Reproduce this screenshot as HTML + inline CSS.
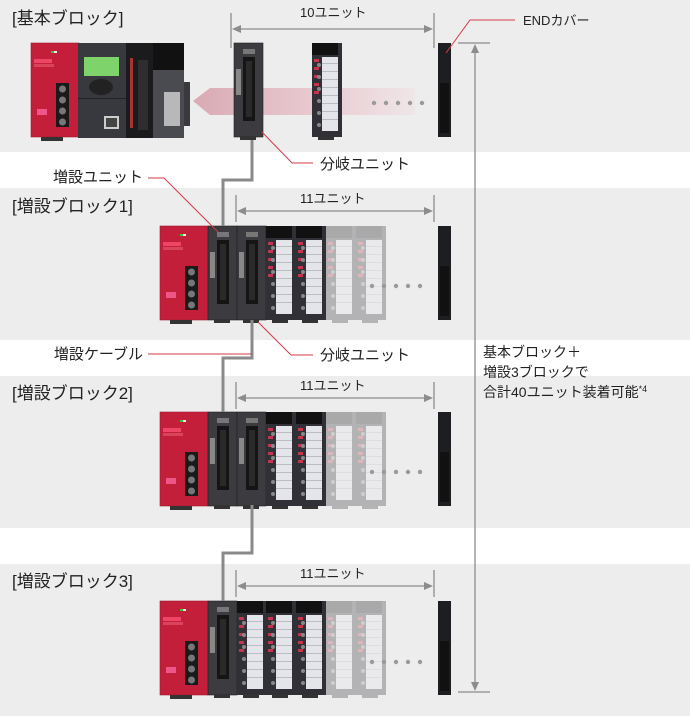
<!DOCTYPE html>
<html><head><meta charset="utf-8"><style>
html,body{margin:0;padding:0;background:#fff;}
svg{display:block;}
text{font-family:"Liberation Sans","Noto Sans CJK JP",sans-serif;fill:#222;}
</style></head><body>
<svg width="690" height="716" viewBox="0 0 690 716" xmlns="http://www.w3.org/2000/svg">
<defs>
<linearGradient id="pink" x1="0" x2="1" y1="0" y2="0">
<stop offset="0" stop-color="#d9aab4"/><stop offset="0.7" stop-color="#ecd3d8"/><stop offset="1" stop-color="#eee6e8"/>
</linearGradient>
<g id="psu">
<rect x="0" y="0" width="48" height="94" fill="#c41f3a"/>
<rect x="0" y="0" width="48" height="94" fill="none" stroke="#9e1a30" stroke-width="0.6"/>
<rect x="20" y="8" width="3" height="2" fill="#3c3"/><rect x="23" y="8" width="3" height="2" fill="#eee"/>
<rect x="3" y="16" width="18" height="4" fill="#e46"/>
<rect x="3" y="21" width="20" height="3" fill="#d9435b"/>
<rect x="25" y="40" width="13" height="44" fill="#1a1a1a"/>
<circle cx="31.5" cy="46" r="3.5" fill="#777"/><circle cx="31.5" cy="57" r="3.5" fill="#777"/>
<circle cx="31.5" cy="68" r="3.5" fill="#777"/><circle cx="31.5" cy="79" r="3.5" fill="#777"/>
<rect x="6" y="66" width="10" height="6" fill="#e58"/>
<rect x="10" y="94" width="22" height="4" fill="#333"/>
</g>
<g id="unit">
<rect x="0" y="0" width="29" height="94" fill="#3b3b40"/>
<rect x="0" y="0" width="29" height="94" fill="none" stroke="#222" stroke-width="0.6"/>
<rect x="9" y="6" width="12" height="5" fill="#777"/>
<rect x="9" y="14" width="12" height="64" fill="#151515"/>
<rect x="12" y="18" width="6" height="56" fill="#2a2a2a"/>
<rect x="2" y="26" width="5" height="26" fill="#888"/>
<rect x="6" y="94" width="16" height="3" fill="#333"/>
</g>
<g id="io">
<rect x="0" y="0" width="30" height="94" fill="#303036"/>
<rect x="0" y="0" width="26" height="12" fill="#111"/>
<rect x="10" y="14" width="16" height="74" fill="#e4e5ea"/>
<g fill="#b3b3b8"><rect x="10" y="20" width="16" height="0.8"/><rect x="10" y="28" width="16" height="0.8"/><rect x="10" y="36" width="16" height="0.8"/><rect x="10" y="44" width="16" height="0.8"/><rect x="10" y="52" width="16" height="0.8"/><rect x="10" y="60" width="16" height="0.8"/><rect x="10" y="68" width="16" height="0.8"/><rect x="10" y="76" width="16" height="0.8"/></g>
<g fill="#c4344c"><rect x="2" y="16" width="5" height="3"/><rect x="2" y="24" width="5" height="3"/><rect x="2" y="32" width="5" height="3"/><rect x="2" y="40" width="5" height="3"/><rect x="2" y="48" width="5" height="3"/></g>
<g fill="#888"><circle cx="7" cy="22" r="2"/><circle cx="7" cy="34" r="2"/><circle cx="7" cy="46" r="2"/><circle cx="7" cy="58" r="2"/><circle cx="7" cy="70" r="2"/><circle cx="7" cy="82" r="2"/></g>
<rect x="6" y="94" width="16" height="3" fill="#333"/>
</g>
<g id="endc"><rect x="0" y="0" width="13" height="94" fill="#1d1e22"/><rect x="2" y="40" width="9" height="50" fill="#111"/></g>
<g id="dots" fill="#9a9a9a"><circle cx="0" cy="0" r="2.2"/><circle cx="12" cy="0" r="2.2"/><circle cx="24" cy="0" r="2.2"/><circle cx="36" cy="0" r="2.2"/><circle cx="48" cy="0" r="2.2"/></g>
</defs>

<!-- bands -->
<rect x="0" y="0" width="690" height="152" fill="#ededed"/>
<rect x="0" y="188" width="690" height="152" fill="#ededed"/>
<rect x="0" y="376" width="690" height="152" fill="#ededed"/>
<rect x="0" y="564" width="690" height="152" fill="#ededed"/>

<!-- block 0 -->
<polygon points="193,101 210,88 415,88 415,115 210,115" fill="url(#pink)"/>
<use href="#psu" x="31" y="43"/>
<rect x="78" y="43" width="48" height="95" fill="#38393e"/>
<rect x="84" y="57" width="35" height="19" fill="#7fd36b"/>
<ellipse cx="101" cy="87" rx="12" ry="8" fill="#222"/>
<rect x="104" y="116" width="15" height="13" fill="#ccc"/><rect x="106" y="118" width="11" height="9" fill="#444"/>
<rect x="78" y="98" width="48" height="1" fill="#222"/>
<rect x="126" y="43" width="27" height="95" fill="#1b1b1e"/>
<rect x="138" y="60" width="10" height="70" fill="#2e2e2e"/>
<rect x="130" y="58" width="3" height="70" fill="#a33"/>
<rect x="153" y="43" width="31" height="95" fill="#4a4b50"/>
<rect x="153" y="43" width="31" height="27" fill="#111"/>
<rect x="164" y="92" width="16" height="34" fill="#b8b8bb"/>
<rect x="184" y="82" width="6" height="44" fill="#3a3a3e"/>
<use href="#unit" x="234" y="43" transform="translate(0,0)"/>
<use href="#io" x="312" y="43"/>
<use href="#dots" x="374" y="103"/>
<use href="#endc" x="438" y="43"/>

<!-- expansion blocks -->
<g transform="translate(0,188)">
<use href="#psu" x="160" y="38"/><use href="#unit" x="208" y="38"/><use href="#unit" x="237" y="38"/>
<use href="#io" x="266" y="38"/><use href="#io" x="296" y="38"/>
<g opacity="0.3"><use href="#io" x="326" y="38"/><use href="#io" x="356" y="38"/></g>
<use href="#dots" x="372" y="98"/><use href="#endc" x="438" y="38"/>
</g>
<g transform="translate(0,376)">
<use href="#psu" x="160" y="36"/><use href="#unit" x="208" y="36"/><use href="#unit" x="237" y="36"/>
<use href="#io" x="266" y="36"/><use href="#io" x="296" y="36"/>
<g opacity="0.3"><use href="#io" x="326" y="36"/><use href="#io" x="356" y="36"/></g>
<use href="#dots" x="372" y="96"/><use href="#endc" x="438" y="36"/>
</g>
<g transform="translate(0,564)">
<use href="#psu" x="160" y="37"/><use href="#unit" x="208" y="37"/>
<use href="#io" x="237" y="37"/><use href="#io" x="266" y="37"/><use href="#io" x="296" y="37"/>
<g opacity="0.3"><use href="#io" x="326" y="37"/><use href="#io" x="356" y="37"/></g>
<use href="#dots" x="372" y="98"/><use href="#endc" x="438" y="37"/>
</g>

<!-- cables -->
<g fill="none" stroke="#8a8a8a" stroke-width="3">
<polyline points="252,140 252,180 223,180 223,226"/>
<polyline points="252,320 252,358 223,358 223,412"/>
<polyline points="252,505 252,553 223,553 223,601"/>
</g>

<!-- dimension lines -->
<g stroke="#8c8c8c" stroke-width="1.3" fill="#8c8c8c">
<line x1="231" y1="13" x2="231" y2="48"/><line x1="434" y1="13" x2="434" y2="48"/>
<line x1="238" y1="29" x2="427" y2="29"/><polygon points="232,29 241,25 241,33" stroke="none"/><polygon points="433,29 424,25 424,33" stroke="none"/>
<g transform="translate(0,182)">
<line x1="236" y1="13" x2="236" y2="40"/><line x1="434" y1="13" x2="434" y2="40"/>
<line x1="243" y1="29" x2="427" y2="29"/><polygon points="237,29 246,25 246,33" stroke="none"/><polygon points="433,29 424,25 424,33" stroke="none"/>
</g>
<g transform="translate(0,369)">
<line x1="236" y1="13" x2="236" y2="40"/><line x1="434" y1="13" x2="434" y2="40"/>
<line x1="243" y1="29" x2="427" y2="29"/><polygon points="237,29 246,25 246,33" stroke="none"/><polygon points="433,29 424,25 424,33" stroke="none"/>
</g>
<g transform="translate(0,557)">
<line x1="236" y1="13" x2="236" y2="40"/><line x1="434" y1="13" x2="434" y2="40"/>
<line x1="243" y1="29" x2="427" y2="29"/><polygon points="237,29 246,25 246,33" stroke="none"/><polygon points="433,29 424,25 424,33" stroke="none"/>
</g>
<line x1="458" y1="43" x2="490" y2="43"/><line x1="458" y1="692" x2="490" y2="692"/>
<line x1="475" y1="50" x2="475" y2="686"/>
<polygon points="475,44 471,53 479,53" stroke="none"/><polygon points="475,691 471,682 479,682" stroke="none"/>
</g>

<!-- leaders -->
<g fill="none" stroke="#d63a4a" stroke-width="1">
<polyline points="446,53 470,20 515,20"/>
<polyline points="262,132 292,163 313,163"/>
<polyline points="148,178 164,178 218,232"/>
<polyline points="148,354 252,354"/>
<polyline points="258,322 291,355 313,355"/>
</g>

<!-- labels -->
<text x="12" y="24" font-size="17">[基本ブロック]</text>
<text x="12" y="212" font-size="17">[増設ブロック1]</text>
<text x="12" y="399" font-size="17">[増設ブロック2]</text>
<text x="12" y="587" font-size="17">[増設ブロック3]</text>
<text x="300" y="17" font-size="13">10ユニット</text>
<text x="300" y="203" font-size="13">11ユニット</text>
<text x="300" y="390" font-size="13">11ユニット</text>
<text x="300" y="578" font-size="13">11ユニット</text>
<text x="523" y="25" font-size="13">ENDカバー</text>
<text x="320" y="169" font-size="15">分岐ユニット</text>
<text x="320" y="360" font-size="15">分岐ユニット</text>
<text x="143" y="182" font-size="15" text-anchor="end">増設ユニット</text>
<text x="143" y="359" font-size="15" text-anchor="end">増設ケーブル</text>
<text x="483" y="357" font-size="14">基本ブロック＋</text>
<text x="483" y="377" font-size="14">増設3ブロックで</text>
<text x="483" y="397" font-size="14">合計40ユニット装着可能<tspan font-size="9" dy="-5">*4</tspan></text>
</svg>
</body></html>
